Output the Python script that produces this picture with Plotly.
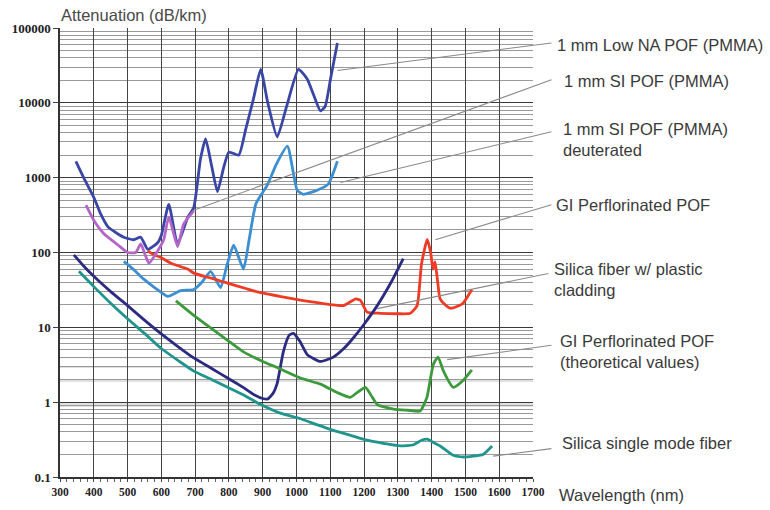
import math
import plotly.graph_objects as go

# ---------------- data ----------------
lowna_nm = [347, 370, 400, 420, 442, 465, 489, 518, 539, 560, 589, 600, 622, 648, 678, 696, 716, 731, 748, 766,
            785, 800, 829, 850, 872, 894, 915, 943, 970, 1006, 1032, 1050, 1071, 1085, 1100, 1121]
lowna_db = [1650, 1000, 545, 330, 220, 185, 160, 148, 160, 110, 135, 170, 440, 130, 295, 400, 1800, 3300, 1500, 650,
            1400, 2200, 2000, 4500, 11000, 28000, 10000, 3500, 8700, 28000, 20700, 13000, 7800, 9000, 20000, 63000]

sipof_nm = [377, 400, 430, 471, 500, 524, 539, 563, 589, 607, 622, 648, 666, 696]
sipof_db = [430, 270, 178, 127, 100, 100, 130, 72, 105, 148, 300, 120, 240, 360]

deut_nm = [489, 520, 548, 580, 619, 657, 696, 720, 746, 775, 795, 814, 843, 860, 880, 914, 940, 973, 1002, 1020,
           1061, 1094, 1121]
deut_db = [76, 58, 44, 34, 26, 31, 32, 40, 56, 34, 70, 125, 60, 150, 450, 800, 1500, 2630, 680, 600, 680, 820, 1660]

gipf_nm = [560, 575, 600, 628, 678, 696, 750, 796, 850, 894, 950, 991, 1040, 1071, 1139, 1160, 1175, 1189, 1209,
           1248, 1300, 1337, 1357, 1370, 1387, 1397, 1404, 1410, 1418, 1425, 1440, 1455, 1475, 1493, 1519]
gipf_db = [105, 95, 85, 72, 60, 53, 45, 39, 33, 29, 26, 24, 22, 21, 19.5, 22, 24, 23, 16,
           15.4, 15.2, 15.4, 19.5, 70, 150, 100, 60, 75, 40, 24, 20, 18, 19, 21, 32]

silpc_nm = [341, 370, 400, 450, 500, 550, 598, 650, 696, 750, 796, 840, 873, 900, 914, 930, 943, 961, 978, 991,
            1010, 1032, 1071, 1109, 1140, 1168, 1200, 1239, 1280, 1316]
silpc_db = [93, 66, 48, 30, 19.5, 12.5, 8.3, 5.5, 3.9, 2.8, 2.1, 1.6, 1.27, 1.12, 1.1, 1.3, 1.8, 4.7, 7.8, 8.3,
            6.5, 4.3, 3.5, 4.0, 5.2, 7.2, 11, 19.5, 40, 83]

gith_nm = [643, 700, 746, 800, 843, 900, 943, 1012, 1071, 1120, 1159, 1180, 1204, 1225, 1239, 1287, 1330, 1366,
           1386, 1405, 1419, 1435, 1464, 1493, 1519]
gith_db = [22.6, 14, 9.8, 6.5, 4.7, 3.5, 2.9, 2.1, 1.74, 1.35, 1.16, 1.35, 1.58, 1.15, 0.93, 0.81, 0.78, 0.76,
           1.16, 3.2, 4.0, 2.6, 1.58, 1.95, 2.7]

smf_nm = [356, 400, 450, 500, 550, 598, 650, 696, 750, 796, 850, 894, 950, 1012, 1060, 1109, 1160, 1209, 1260,
          1307, 1346, 1370, 1387, 1405, 1425, 1464, 1495, 1522, 1552, 1579]
smf_db = [56, 35, 21, 13, 8.3, 5.3, 3.6, 2.6, 2.0, 1.58, 1.2, 0.93, 0.72, 0.6, 0.5, 0.42, 0.36, 0.31, 0.28,
          0.26, 0.27, 0.31, 0.32, 0.29, 0.26, 0.195, 0.185, 0.19, 0.2, 0.26]

label_texts = ["1 mm Low NA POF (PMMA)", "1 mm SI POF (PMMA)", "1 mm SI POF (PMMA)<br>deuterated",
               "GI Perflorinated POF", "Silica fiber w/ plastic<br>cladding",
               "GI Perflorinated POF<br>(theoretical values)", "Silica single mode fiber"]
# leader line anchor on the curve (nm, dB/km) and end next to the label (nm, dB/km)
leader_from_nm = [1121, 696, 1130, 1411, 1239, 1446, 1582]
leader_from_db = [27000, 368, 860, 148, 17.8, 3.7, 0.19]
leader_to_nm = [1759, 1759, 1759, 1759, 1750, 1759, 1759]
leader_to_db = [63500, 20700, 4150, 442, 53, 5.8, 0.241]

x_ticks = [300, 400, 500, 600, 700, 800, 900, 1000, 1100, 1200, 1300, 1400, 1500, 1600, 1700]
y_ticks = [0.1, 1, 10, 100, 1000, 10000, 100000]
y_tick_text = ["0.1", "1", "10", "100", "1000", "10000", "100000"]

# ---------------- figure ----------------
series = [
    (lowna_nm, lowna_db, "#3a46a6"),
    (deut_nm, deut_db, "#3b8fd2"),
    (gipf_nm, gipf_db, "#ef3b25"),
    (silpc_nm, silpc_db, "#2c2b82"),
    (gith_nm, gith_db, "#3c9a3c"),
    (smf_nm, smf_db, "#1f958d"),
    (sipof_nm, sipof_db, "#b466c8"),
]

fig = go.Figure()
for xs, ys, col in series:
    fig.add_trace(go.Scatter(x=xs, y=ys, mode="lines",
                             line=dict(color=col, width=2.8, shape="spline", smoothing=0.5),
                             showlegend=False, hoverinfo="skip"))

# light grey bands of the graph paper
band_shapes = []
for k in [4, 3, 2, 1, 0]:
    band_shapes.append(dict(type="rect", xref="paper", yref="y", x0=0, x1=1,
                            y0=k - 0.14, y1=k - 0.02, fillcolor="rgba(170,170,170,0.35)",
                            line=dict(width=0), layer="below"))

annotations = []
for i, t in enumerate(label_texts):
    annotations.append(dict(x=leader_from_nm[i], y=math.log10(leader_from_db[i]), xref="x", yref="y",
                            ax=leader_to_nm[i], ay=math.log10(leader_to_db[i]), axref="x", ayref="y",
                            text="", showarrow=True, arrowhead=0, arrowwidth=1.1, arrowcolor="#8a8a8a",
                            standoff=0, startstandoff=0))

label_pos = [(1.046, 0.963), (1.061, 0.882), (1.059, 0.752), (1.044, 0.605),
             (1.040, 0.439), (1.053, 0.279), (1.057, 0.075)]
for t, (px, py) in zip(label_texts, label_pos):
    annotations.append(dict(x=px, y=py, xref="paper", yref="paper", text=t, showarrow=False,
                            xanchor="left", yanchor="middle", align="left",
                            font=dict(family="Liberation Sans, Arial", size=16.5, color="#3a3a3a")))

annotations.append(dict(x=1.051, y=-0.039, xref="paper", yref="paper", text="Wavelength (nm)",
                        showarrow=False, xanchor="left", yanchor="middle",
                        font=dict(family="Liberation Sans, Arial", size=16.5, color="#3a3a3a")))
annotations.append(dict(x=-0.002, y=1.028, xref="paper", yref="paper", text="Attenuation (dB/km)",
                        showarrow=False, xanchor="left", yanchor="middle",
                        font=dict(family="Liberation Sans, Arial", size=16.5, color="#4a4a4a")))

fig.update_layout(
    width=770, height=510,
    margin=dict(l=59, r=237, t=28, b=26),
    paper_bgcolor="white", plot_bgcolor="white",
    shapes=band_shapes,
    annotations=annotations,
    xaxis=dict(range=[300, 1700], tickvals=x_ticks, ticktext=[str(v) for v in x_ticks],
               showgrid=True, gridcolor="#444444", gridwidth=1.2,
               showline=True, linecolor="#333333", linewidth=1.5,
               ticks="outside", ticklen=3, tickcolor="#444",
               minor=dict(dtick=20, ticks="outside", ticklen=3, tickcolor="#666", showgrid=False),
               tickfont=dict(family="Liberation Serif, Times New Roman", size=11.5, color="#222",
                             weight="bold"),
               zeroline=False, fixedrange=True),
    yaxis=dict(type="log", range=[-1, 5], tickvals=y_ticks, ticktext=y_tick_text,
               showgrid=True, gridcolor="#3a3a3a", gridwidth=1.2,
               showline=True, linecolor="#333333", linewidth=1.5,
               ticks="outside", ticklen=5, tickcolor="#444",
               minor=dict(dtick="D1", showgrid=True, gridcolor="#9a9a9a", gridwidth=1, ticks=""),
               tickfont=dict(family="Liberation Serif, Times New Roman", size=13, color="#222",
                             weight="bold"),
               zeroline=False, fixedrange=True),
)

fig.write_html("out.html")
